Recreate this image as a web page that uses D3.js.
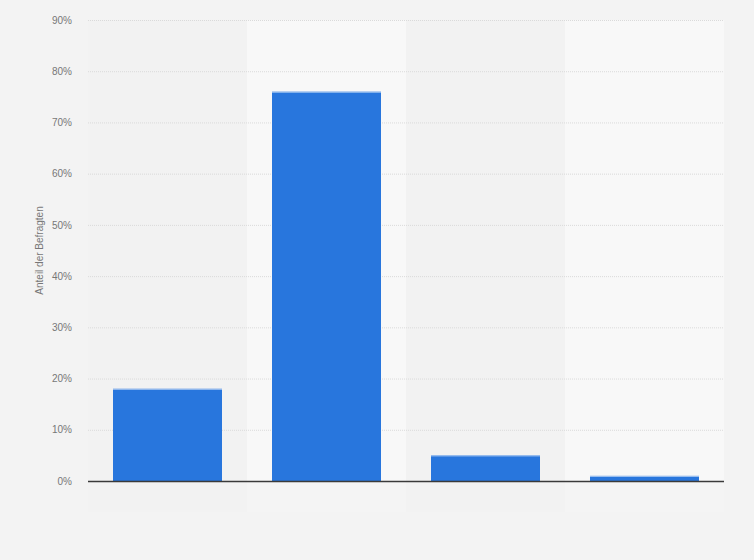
<!DOCTYPE html>
<html>
<head>
<meta charset="utf-8">
<script src="https://cdn.jsdelivr.net/npm/d3@7"></script>
<style>
  body { margin: 0; background: #f3f3f3; }
  svg { display: block; font-family: "Liberation Sans", Arial, sans-serif; }
</style>
</head>
<body>
<div id="chart"></div>
<script>
'use strict';

// data
var categories = ['Antwort A', 'Antwort B', 'Antwort C', 'Antwort D'];
var values = [18, 76, 5, 1];
var yTicks = [0, 10, 20, 30, 40, 50, 60, 70, 80, 90];
var yLabel = 'Anteil der Befragten';

drawChart();

function drawChart() {
	var WIDTH = 754,
		HEIGHT = 560;
	var margin = { top: 20, right: 30, bottom: 79, left: 88 };
	var w = WIDTH - margin.left - margin.right,
		h = HEIGHT - margin.top - margin.bottom;

	var svg = d3.select('#chart').append('svg')
		.attr('width', WIDTH)
		.attr('height', HEIGHT);

	svg.append('rect')
		.attr('width', WIDTH)
		.attr('height', HEIGHT)
		.attr('fill', '#f3f3f3');

	var g = svg.append('g')
		.attr('transform', 'translate(' + margin.left + ',' + margin.top + ')');

	var x = d3.scaleBand()
		.domain(categories)
		.range([0, w])
		.paddingInner(0)
		.paddingOuter(0);

	var y = d3.scaleLinear()
		.domain([0, 90])
		.range([h, 0]);

	// alternating column bands
	g.selectAll('.band')
		.data(categories)
		.enter().append('rect')
			.attr('class', 'band')
			.attr('x', function(d) { return x(d); })
			.attr('y', 0)
			.attr('width', x.bandwidth())
			.attr('height', h)
			.attr('fill', function(d, i) { return i % 2 ? '#f8f8f8' : '#f2f2f2'; });

	// faint band continuation below the axis
	g.selectAll('.bandlow')
		.data(categories)
		.enter().append('rect')
			.attr('class', 'bandlow')
			.attr('x', function(d) { return x(d); })
			.attr('y', h)
			.attr('width', x.bandwidth())
			.attr('height', 31)
			.attr('fill', function(d, i) { return i % 2 ? '#f4f4f4' : '#f2f2f2'; });

	// gridlines
	g.selectAll('.grid')
		.data(yTicks.filter(function(t) { return t > 0; }))
		.enter().append('line')
			.attr('class', 'grid')
			.attr('x1', 0)
			.attr('x2', w)
			.attr('y1', function(d) { return y(d) + 0.5; })
			.attr('y2', function(d) { return y(d) + 0.5; })
			.attr('stroke', '#dadada')
			.attr('stroke-width', 1)
			.attr('stroke-dasharray', '1,1');

	// y axis
	var yAxis = d3.axisLeft(y)
		.tickValues(yTicks)
		.tickFormat(function(d) { return d + '%'; })
		.tickSize(0)
		.tickPadding(16);

	var ya = g.append('g').call(yAxis);
	ya.select('.domain').remove();
	ya.selectAll('text')
		.attr('fill', '#777')
		.style('font-size', '10px');

	// bars
	var bw = 109;
	g.selectAll('.bar')
		.data(values)
		.enter().append('rect')
			.attr('class', 'bar')
			.attr('x', function(d, i) { return x(categories[i]) + (x.bandwidth() - bw) / 2; })
			.attr('y', function(d) { return y(d); })
			.attr('width', bw)
			.attr('height', function(d) { return h - y(d); })
			.attr('fill', '#2876dd');

	// light top edge of bars
	g.selectAll('.bartop')
		.data(values)
		.enter().append('line')
			.attr('class', 'bartop')
			.attr('x1', function(d, i) { return x(categories[i]) + (x.bandwidth() - bw) / 2; })
			.attr('x2', function(d, i) { return x(categories[i]) + (x.bandwidth() + bw) / 2; })
			.attr('y1', function(d) { return y(d) + 0.5; })
			.attr('y2', function(d) { return y(d) + 0.5; })
			.attr('stroke', '#a9c9f2')
			.attr('stroke-width', 1);

	// baseline
	g.append('line')
		.attr('x1', 0)
		.attr('x2', w)
		.attr('y1', h + 0.5)
		.attr('y2', h + 0.5)
		.attr('stroke', '#3a3a3a')
		.attr('stroke-width', 1.5);

	// y axis title
	svg.append('text')
		.attr('transform', 'translate(43,' + (margin.top + h / 2) + ') rotate(-90)')
		.attr('text-anchor', 'middle')
		.attr('fill', '#777')
		.style('font-size', '10px')
		.text(yLabel);
}
</script>
</body>
</html>
